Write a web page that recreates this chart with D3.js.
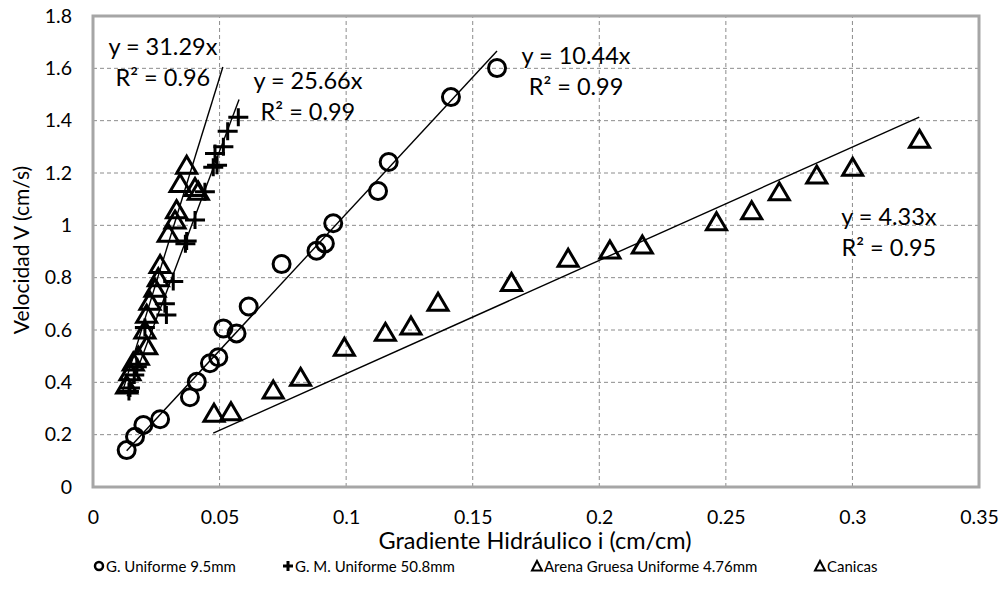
<!DOCTYPE html>
<html>
<head>
<meta charset="utf-8">
<script src="https://cdn.jsdelivr.net/npm/d3@7"></script>
<style>
  body { margin: 0; background: #fff; }
  text { font-family: Lato, "Open Sans", sans-serif; fill: #000; }
</style>
</head>
<body>
<svg id="chart" width="1008" height="589"></svg>
<script>
// axis ticks
const xTicks = [0, 0.05, 0.1, 0.15, 0.2, 0.25, 0.3, 0.35];
const xTickLabels = ['0', '0.05', '0.1', '0.15', '0.2', '0.25', '0.3', '0.35'];
const yTicks = [0, 0.2, 0.4, 0.6, 0.8, 1, 1.2, 1.4, 1.6, 1.8];
const yTickLabels = ['0', '0.2', '0.4', '0.6', '0.8', '1', '1.2', '1.4', '1.6', '1.8'];

// series [gradiente i, velocidad V]
const uniforme95 = [
    [0.0133, 0.141], [0.0166, 0.192], [0.0199, 0.237], [0.0265, 0.259],
    [0.0383, 0.343], [0.041, 0.402], [0.0462, 0.473], [0.0495, 0.496],
    [0.0515, 0.606], [0.0567, 0.587], [0.0615, 0.69], [0.0745, 0.852],
    [0.0883, 0.903], [0.0916, 0.931], [0.0949, 1.008], [0.1126, 1.131],
    [0.1168, 1.242], [0.1414, 1.49], [0.1596, 1.601]
];
const gmUniforme508 = [
    [0.0142, 0.365], [0.0146, 0.378], [0.0163, 0.428], [0.0173, 0.46],
    [0.0205, 0.61], [0.0284, 0.70], [0.029, 0.657], [0.0317, 0.785],
    [0.0365, 0.93], [0.037, 0.94], [0.0403, 1.02], [0.0442, 1.128],
    [0.0475, 1.222], [0.049, 1.23], [0.0482, 1.275], [0.0515, 1.30],
    [0.0532, 1.36], [0.0574, 1.413]
];
const arenaGruesa476 = [
    [0.0478, 0.282], [0.0545, 0.288], [0.0712, 0.371], [0.082, 0.419],
    [0.0993, 0.534], [0.1155, 0.591], [0.1256, 0.615], [0.1363, 0.706],
    [0.1653, 0.782], [0.1877, 0.874], [0.2042, 0.906], [0.217, 0.925],
    [0.2463, 1.014], [0.2602, 1.056], [0.2711, 1.128], [0.2859, 1.192],
    [0.3001, 1.222], [0.3265, 1.329]
];
const canicas = [
    [0.0133, 0.39], [0.0146, 0.44], [0.0159, 0.478], [0.0179, 0.50],
    [0.0212, 0.54], [0.0205, 0.60], [0.0212, 0.66], [0.0225, 0.71],
    [0.0245, 0.76], [0.0258, 0.80], [0.0265, 0.85], [0.0297, 0.97],
    [0.0324, 1.02], [0.033, 1.06], [0.0344, 1.16], [0.0403, 1.145],
    [0.0416, 1.13], [0.037, 1.23]
];

// linear trendlines through origin
const seriesNames = ['G. Uniforme 9.5mm', 'G. M. Uniforme 50.8mm', 'Arena Gruesa Uniforme 4.76mm', 'Canicas'];
const slopes = [10.44, 25.66, 4.33, 31.29];
const rSquared = [0.99, 0.99, 0.95, 0.96];
const trendFrom = [0.0133, 0.0135, 0.0475, 0.0115];
const trendTo = [0.1596, 0.0577, 0.3264, 0.0513];

const triPath = 'M0,-9L10,8L-10,8Z';

const svg = d3.select('#chart');
const x = d3.scaleLinear().domain([0, 0.35]).range([93, 979]);
const y = d3.scaleLinear().domain([0, 1.8]).range([487, 16]);

drawGrid();
drawAxes();
drawTrends();
drawMarkers();
drawLegend();

function drawGrid() {
    const g = svg.append('g')
        .attr('stroke', '#8c8c8c')
        .attr('stroke-dasharray', '4,3')
        .attr('stroke-width', 1);
    g.selectAll('.hgrid')
        .data(yTicks.slice(1, -1))
        .join('line')
        .attr('x1', x(0)).attr('x2', x(0.35))
        .attr('y1', d => y(d)).attr('y2', d => y(d));
    g.selectAll('.vgrid')
        .data(xTicks.slice(1, -1))
        .join('line')
        .attr('y1', y(0)).attr('y2', y(1.8))
        .attr('x1', d => x(d)).attr('x2', d => x(d));

    // plot area frame
    svg.append('rect')
        .attr('x', x(0)).attr('y', y(1.8))
        .attr('width', x(0.35) - x(0)).attr('height', y(0) - y(1.8))
        .attr('fill', 'none')
        .attr('stroke', '#a6a6a6')
        .attr('stroke-width', 3);
}

function drawAxes() {
    const xAxis = d3.axisBottom(x)
        .tickValues(xTicks)
        .tickFormat((d, i) => xTickLabels[i])
        .tickSize(0)
        .tickPadding(23);
    svg.append('g')
        .attr('transform', `translate(0,${y(0)})`)
        .call(xAxis)
        .call(g => g.select('.domain').remove())
        .call(g => g.selectAll('text').attr('font-size', 19.5).attr('font-family', 'Lato'));

    const yAxis = d3.axisLeft(y)
        .tickValues(yTicks)
        .tickFormat((d, i) => yTickLabels[i])
        .tickSize(0)
        .tickPadding(21);
    svg.append('g')
        .attr('transform', `translate(${x(0)},0)`)
        .call(yAxis)
        .call(g => g.select('.domain').remove())
        .call(g => g.selectAll('text').attr('font-size', 19.5).attr('font-family', 'Lato'));

    svg.append('text')
        .attr('x', 535).attr('y', 549)
        .attr('text-anchor', 'middle')
        .attr('font-size', 23.5)
        .text('Gradiente Hidráulico i (cm/cm)');

    svg.append('text')
        .attr('transform', 'translate(29,250) rotate(-90)')
        .attr('text-anchor', 'middle')
        .attr('font-size', 21)
        .text('Velocidad V (cm/s)');
}

function drawTrends() {
    svg.append('g')
        .selectAll('line')
        .data(slopes)
        .join('line')
        .attr('x1', (d, i) => x(trendFrom[i]))
        .attr('y1', (d, i) => y(d * trendFrom[i]))
        .attr('x2', (d, i) => x(trendTo[i]))
        .attr('y2', (d, i) => y(d * trendTo[i]))
        .attr('stroke', '#000')
        .attr('stroke-width', 1.4);

    // equation labels, anchored in data space
    const labelAt = [[0.1908, 1.647], [0.0849, 1.553], [0.3144, 1.033], [0.0276, 1.681]];
    const lbl = svg.append('g').attr('font-size', 23.5).attr('text-anchor', 'middle');
    slopes.forEach((s, i) => {
        const t = lbl.append('text')
            .attr('x', x(labelAt[i][0]))
            .attr('y', y(labelAt[i][1]) + 8);
        t.append('tspan').text(`y = ${s.toFixed(2)}x`);
        t.append('tspan')
            .attr('x', x(labelAt[i][0]))
            .attr('dy', 31)
            .text(`R² = ${rSquared[i].toFixed(2)}`);
    });
}

function drawMarkers() {
    const g = svg.append('g')
        .attr('fill', 'none')
        .attr('stroke', '#000')
        .attr('stroke-width', 3);

    g.selectAll('.circ')
        .data(uniforme95)
        .join('circle')
        .attr('cx', d => x(d[0]))
        .attr('cy', d => y(d[1]))
        .attr('r', 8.5);

    g.selectAll('.cross')
        .data(gmUniforme508)
        .join('path')
        .attr('d', d => `M${x(d[0]) - 10},${y(d[1])}h20M${x(d[0])},${y(d[1]) - 9}v18`);

    g.selectAll('.tri')
        .data(arenaGruesa476.concat(canicas))
        .join('path')
        .attr('transform', d => `translate(${x(d[0])},${y(d[1])})`)
        .attr('d', triPath);
}

function drawLegend() {
    const items = [
        { mark: 'circle', x: 99 },
        { mark: 'cross', x: 288 },
        { mark: 'tri', x: 537 },
        { mark: 'tri', x: 820 }
    ];
    const ly = 566;
    const g = svg.append('g');
    items.forEach((it, i) => {
        const m = g.append('g')
            .attr('transform', `translate(${it.x},${ly})`)
            .attr('fill', 'none')
            .attr('stroke', '#000')
            .attr('stroke-width', 2.5);
        if (it.mark === 'circle') m.append('circle').attr('r', 4);
        else if (it.mark === 'cross') m.append('path').attr('d', 'M-5,0h10M0,-5v10').attr('stroke-width', 3);
        else m.append('path').attr('d', 'M0,-5L5,4.5L-5,4.5Z').attr('stroke-width', 2);
        g.append('text')
            .attr('x', it.x + 7)
            .attr('y', ly + 6)
            .attr('font-size', 15)
            .text(seriesNames[i]);
    });
}
</script>
</body>
</html>
